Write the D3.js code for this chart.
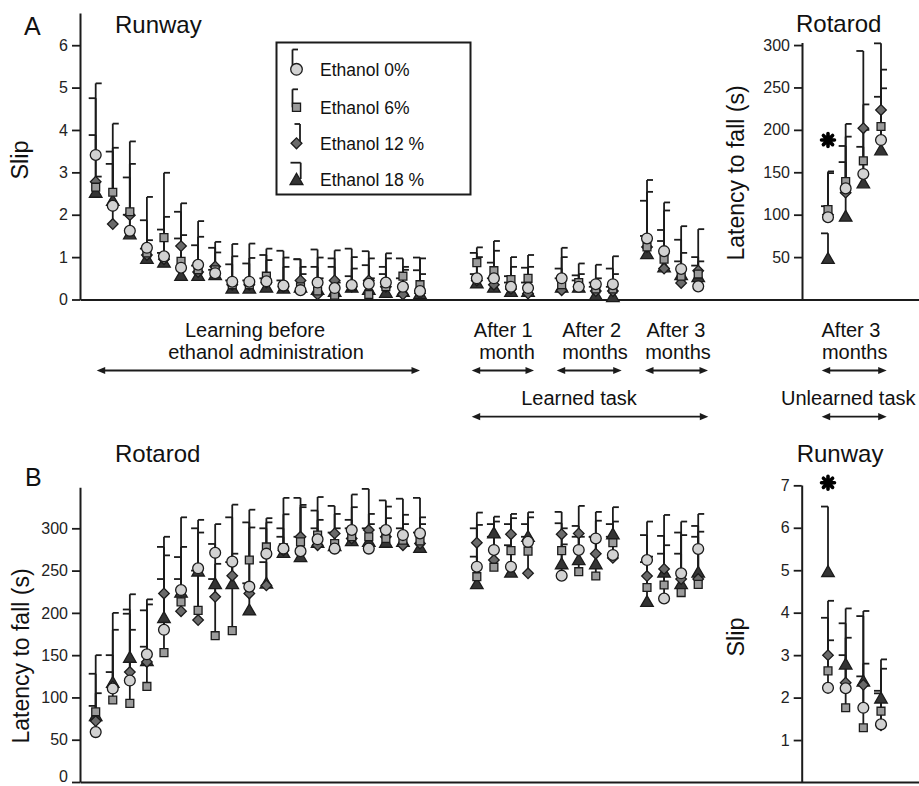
<!DOCTYPE html>
<html><head><meta charset="utf-8">
<script src="https://cdn.jsdelivr.net/npm/d3@7"></script>
<style>
body{margin:0;background:#fff;}
svg{display:block;font-family:"Liberation Sans",Arial,Helvetica,sans-serif;}
</style></head><body>
<svg id="chart" width="919" height="786"></svg>
<script>
// ---------------- DATA ----------------
const seriesNames = ["Ethanol 0%", "Ethanol 6%", "Ethanol 12 %", "Ethanol 18 %"];
const learningSessions = d3.range(1, 21);
const followUpGroups = ["After 1 month", "After 2 months", "After 3 months"];
const unlearnedTests = [1, 2, 3, 4];

// A - Runway, learning before ethanol (mean per series: 0%, 6%, 12%, 18%)
const aRunwayLearnMean = [
  [3.41, 2.21, 1.62, 1.22, 1.02, 0.75, 0.82, 0.62, 0.42, 0.42, 0.43, 0.33, 0.22, 0.40, 0.27, 0.34, 0.37, 0.40, 0.30, 0.20],
  [2.65, 2.53, 2.07, 1.10, 1.46, 0.90, 0.70, 0.70, 0.35, 0.35, 0.55, 0.30, 0.30, 0.20, 0.10, 0.30, 0.12, 0.30, 0.55, 0.35],
  [2.78, 1.78, 1.99, 1.05, 0.95, 1.26, 0.65, 0.78, 0.35, 0.35, 0.40, 0.30, 0.45, 0.12, 0.45, 0.30, 0.45, 0.30, 0.12, 0.15],
  [2.54, 2.35, 1.56, 0.98, 0.89, 0.58, 0.58, 0.60, 0.28, 0.28, 0.30, 0.28, 0.30, 0.25, 0.20, 0.30, 0.25, 0.18, 0.20, 0.15]
];
const aRunwayLearnTop = [
  [5.10, 4.15, 3.73, 2.42, 1.95, 1.52, 1.85, 1.11, 1.02, 0.98, 0.93, 0.77, 0.77, 0.99, 1.16, 1.00, 0.97, 0.97, 0.70, 0.97],
  [2.90, 3.58, 3.20, 1.40, 2.99, 2.27, 1.48, 1.36, 1.31, 1.32, 1.20, 0.99, 0.60, 0.50, 0.40, 0.73, 0.50, 1.09, 0.77, 0.60],
  [4.75, 3.20, 2.88, 1.87, 1.65, 2.07, 1.28, 1.22, 0.83, 0.85, 1.05, 1.15, 0.95, 1.18, 0.97, 1.20, 1.14, 0.60, 0.97, 0.99],
  [3.88, 3.49, 2.00, 1.20, 1.10, 1.44, 0.80, 0.70, 0.45, 0.45, 0.50, 0.45, 0.95, 0.77, 0.77, 0.55, 0.81, 0.77, 0.50, 0.69]
];
// A - Runway, learned task after 1, 2, 3 months (4 tests each)
const aRunwayFollowMean = [
  [0.50, 0.50, 0.30, 0.27, 0.50, 0.30, 0.36, 0.36, 1.44, 1.14, 0.72, 0.31],
  [0.87, 0.68, 0.47, 0.50, 0.35, 0.40, 0.25, 0.25, 1.24, 0.95, 0.55, 0.60],
  [0.45, 0.35, 0.25, 0.14, 0.22, 0.30, 0.20, 0.20, 1.24, 0.73, 0.39, 0.68],
  [0.40, 0.30, 0.20, 0.20, 0.30, 0.30, 0.12, 0.08, 1.09, 0.78, 0.60, 0.55]
];
const aRunwayFollowTop = [
  [1.00, 1.15, 0.77, 0.77, 1.22, 0.85, 0.82, 1.02, 2.82, 2.29, 1.73, 0.90],
  [1.23, 1.38, 1.00, 1.05, 1.00, 0.60, 0.50, 0.60, 2.54, 2.10, 1.10, 1.66],
  [1.10, 0.87, 0.55, 0.75, 0.73, 0.57, 0.40, 0.73, 2.33, 1.64, 1.41, 1.00],
  [0.60, 0.50, 0.40, 0.40, 0.50, 0.45, 0.30, 0.30, 1.50, 1.38, 0.90, 0.80]
];
// A - Rotarod, unlearned task after 3 months
const aRotarodMean = [[97, 131, 148, 188], [106, 139, 163.5, 204], [100, 126, 202, 223.5], [49, 98.7, 138, 177]];
const aRotarodTop  = [[151, 192, 230, 249], [149, 207, 200, 271], [110, 162, 293, 302], [78, 181, 180, 239]];
const aRotarodStar = [{test: 1, value: 188}];

// B - Rotarod, learning before ethanol
const bRotarodLearnMean = [
  [59, 110.5, 120, 151, 180, 227, 252.7, 271, 260.6, 231, 270, 276, 273, 287, 276, 298, 276, 298, 292, 294],
  [83, 97, 93, 113, 153, 213, 203, 173, 179, 262.5, 278, 277, 284, 292, 282, 290, 290, 288, 286, 285],
  [72, 113, 130, 142, 223, 202, 191.5, 219, 244, 223, 232.5, 274, 290, 280, 294, 288, 298, 290, 280, 282],
  [79, 118.4, 148, 144, 195, 225, 250, 235, 235, 204, 235.7, 272, 267, 284, 280, 286, 285, 284, 285, 278]
];
const bRotarodLearnTop = [
  [105, 180, 180, 210, 268, 278, 295, 305, 328, 301, 307, 316.6, 327.7, 337, 317, 340, 317, 325.7, 316, 313],
  [150, 200, 222, 216, 290, 313, 310, 258, 270, 322, 312, 336, 325, 310, 300, 325, 305, 312, 305, 305],
  [128, 150, 204, 203, 278, 266, 250, 240, 313, 307, 300, 300, 336, 321, 326.5, 310, 346.6, 333, 335, 336],
  [90, 130, 199, 160, 240, 240, 300, 281.5, 260, 235, 260, 290, 290, 300, 295, 300, 300, 300, 300, 295]
];
// B - Rotarod, learned task after 1, 2, 3 months
const bRotarodFollowMean = [
  [254.6, 274.4, 254.6, 284, 244, 274.4, 288, 268.5, 262.5, 217, 246.8, 275.6],
  [242.8, 254, 273.6, 273, 273.6, 248.7, 243.6, 283, 230, 233, 224, 233.7],
  [283, 262.5, 293, 246.8, 293, 294, 270, 265, 243.6, 252, 240, 240],
  [235, 295, 248.7, 291, 258.6, 263.4, 258.6, 294, 214, 248.7, 235, 248.7]
];
const bRotarodFollowTop = [
  [304, 308, 312, 313, 281, 326.5, 319.4, 308, 308, 315.8, 308, 317],
  [318.6, 313.8, 317, 319, 300, 290, 309, 325, 266.5, 280, 292, 296],
  [300, 290, 305, 290, 319.4, 302.8, 290, 290, 292, 291, 295, 302.8],
  [266.5, 305, 280, 305, 306, 290, 290, 305, 260, 270, 270, 290]
];
// B - Runway, unlearned task after 3 months
const bRunwayMean = [[2.23, 2.22, 1.76, 1.37], [2.63, 1.76, 1.29, 1.68], [3.0, 2.35, 2.3, 1.35], [4.98, 2.8, 2.4, 2.0]];
const bRunwayTop  = [[4.28, 4.1, 4.04, 2.68], [3.35, 3.41, 2.8, 2.9], [3.88, 3.75, 2.5, 2.16], [6.5, 3.0, 3.92, 2.1]];
const bRunwayStar = [{test: 1, value: 7.06}];

// tick labels
const aRunwayTicks = [0, 1, 2, 3, 4, 5, 6];
const aRotarodTicks = [50, 100, 150, 200, 250, 300];
const bRotarodTicks = [0, 50, 100, 150, 200, 250, 300];
const bRunwayTicks = [1, 2, 3, 4, 5, 6, 7];

// ---------------- STYLE / LAYOUT ----------------
const FONT = '"Liberation Sans", Arial, Helvetica, sans-serif';
const INK = "#1b1b1b";
const fills = ["#d2d2d2", "#9b9b9b", "#6a6a6a", "#343434"];
const symbolsOf = [
  {type: d3.symbolCircle, size: 92, rot: 0},
  {type: d3.symbolSquare, size: 62, rot: 0},
  {type: d3.symbolSquare, size: 56, rot: 45},
  {type: d3.symbolTriangle, size: 68, rot: 0}
];
const followGroupStart = [22.33, 27.3, 32.3]; // slot offsets of follow-up groups

const svg = d3.select("#chart");

// scales
const xLeft = d3.scaleLinear().domain([0, 19]).range([95.7, 420]);
const xRight = d3.scaleLinear().domain([1, 4]).range([828, 881]);
const yA = d3.scaleLinear().domain([0, 6.76]).range([299.5, 13]);
const yAR = d3.scaleLinear().domain([0, 303]).range([299.5, 42.5]);
const yB = d3.scaleLinear().domain([0, 348.5]).range([782, 487.3]);
const yBR = d3.scaleLinear().domain([0, 7.01]).range([782.5, 484.9]);

function styleAxis(g) {
  g.attr("font-family", FONT).attr("font-size", 16);
  g.select(".domain").attr("stroke", INK).attr("stroke-width", 2);
  g.selectAll(".tick line").attr("stroke", INK).attr("stroke-width", 1.8);
  g.selectAll(".tick text").attr("fill", "#222");
}
function yAxis(scale, ticks, x) {
  return svg.append("g").attr("transform", `translate(${x},0)`)
    .call(d3.axisLeft(scale).tickValues(ticks).tickFormat(d3.format("d"))
      .tickSize(8).tickPadding(4).tickSizeOuter(0))
    .call(styleAxis);
}
function baseline(y) {
  const bx = d3.scaleLinear().domain([0, 1]).range([80, 919]);
  svg.append("g").attr("transform", `translate(0,${y})`)
    .call(d3.axisBottom(bx).tickValues([]).tickSizeOuter(0))
    .call(styleAxis);
}

function buildPoints(meanArr, topArr, xs) {
  return xs.map((x, i) => ({x, mean: meanArr.map(s => s[i]), top: topArr.map(s => s[i])}));
}

function drawPoints(pts, y) {
  const g = svg.append("g");
  pts.forEach(p => {
    for (let s = 0; s < 4; s++) {
      const y0 = y(p.mean[s]), y1 = y(p.top[s]);
      g.append("line").attr("x1", p.x).attr("x2", p.x).attr("y1", y0).attr("y2", y1)
        .attr("stroke", INK).attr("stroke-width", 1.8);
      const cx = s < 2 ? p.x + 6 : p.x - 7;
      g.append("line").attr("x1", p.x).attr("x2", cx).attr("y1", y1).attr("y2", y1)
        .attr("stroke", INK).attr("stroke-width", 1.8);
    }
  });
  for (let s = 3; s >= 0; s--) {
    const sym = symbolsOf[s];
    const gen = d3.symbol().type(sym.type).size(sym.size);
    const dy = s === 3 ? 1.8 : 0;
    g.selectAll(null).data(pts).join("path")
      .attr("d", gen())
      .attr("transform", d => `translate(${d.x},${y(d.mean[s]) + dy}) rotate(${sym.rot})`)
      .attr("fill", fills[s]).attr("stroke", INK).attr("stroke-width", 1.3);
  }
}

function drawStar(x, y) {
  const p = d3.path();
  const r = 6.5;
  for (let k = 0; k < 4; k++) {
    const a = k * Math.PI / 4;
    p.moveTo(x - r * Math.sin(a), y - r * Math.cos(a));
    p.lineTo(x + r * Math.sin(a), y + r * Math.cos(a));
  }
  svg.append("path").attr("d", p.toString()).attr("stroke", "#000")
    .attr("stroke-width", 3.6).attr("stroke-linecap", "round").attr("fill", "none");
}

function text(str, x, y, size, anchor, rotate) {
  const t = svg.append("text").attr("font-family", FONT).attr("font-size", size)
    .attr("fill", "#111").attr("text-anchor", anchor || "start").text(str);
  if (rotate) t.attr("transform", `translate(${x},${y}) rotate(-90)`);
  else t.attr("x", x).attr("y", y);
  return t;
}

function arrow(x1, x2, y) {
  svg.append("line").attr("x1", x1 + 4).attr("x2", x2 - 4).attr("y1", y).attr("y2", y)
    .attr("stroke", INK).attr("stroke-width", 1.8);
  svg.append("path").attr("d", `M${x1},${y}l8.5,-3.6v7.2z`).attr("fill", INK);
  svg.append("path").attr("d", `M${x2},${y}l-8.5,-3.6v7.2z`).attr("fill", INK);
}

const learnX = learningSessions.map((d, i) => xLeft(i));
const followX = [];
followUpGroups.forEach((g, gi) => { for (let j = 0; j < 4; j++) followX.push(xLeft(followGroupStart[gi] + j)); });
const rightX = unlearnedTests.map(t => xRight(t));

// ---------------- PANEL A ----------------
baseline(299.5);
yAxis(yA, aRunwayTicks, 80);
yAxis(yAR, aRotarodTicks, 802);
drawPoints(buildPoints(aRunwayLearnMean, aRunwayLearnTop, learnX), yA);
drawPoints(buildPoints(aRunwayFollowMean, aRunwayFollowTop, followX), yA);
drawPoints(buildPoints(aRotarodMean, aRotarodTop, rightX), yAR);
aRotarodStar.forEach(s => drawStar(xRight(s.test), yAR(s.value)));

text("A", 24, 35, 25);
text("Runway", 115, 32.5, 24);
text("Rotarod", 796, 31.5, 24);
text("Slip", 28, 160, 23.5, "middle", true);
text("Latency to fall (s)", 744, 173, 23, "middle", true);

// legend
const leg = svg.append("g");
leg.append("rect").attr("x", 276.5).attr("y", 42.5).attr("width", 194).attr("height", 152)
  .attr("fill", "#fff").attr("stroke", INK).attr("stroke-width", 2);
const legRowY = [69.3, 107.3, 143.3, 179];
const legBarTop = [49.5, 89.3, 124, 162.7];
const legBarX = [292.5, 292.5, 300, 300.7];
const legCapX = [298, 298, 294.5, 290.5];
seriesNames.forEach((name, s) => {
  const mx = 296.5;
  leg.append("line").attr("x1", legBarX[s]).attr("x2", legBarX[s]).attr("y1", legBarTop[s]).attr("y2", legRowY[s])
    .attr("stroke", INK).attr("stroke-width", 1.8);
  leg.append("line").attr("x1", legBarX[s]).attr("x2", legCapX[s]).attr("y1", legBarTop[s]).attr("y2", legBarTop[s])
    .attr("stroke", INK).attr("stroke-width", 1.8);
  const sym = symbolsOf[s];
  leg.append("path").attr("d", d3.symbol().type(sym.type).size(sym.size * (s === 0 ? 1.15 : 1.05))())
    .attr("transform", `translate(${mx},${legRowY[s] + (s === 3 ? 1.8 : 0)}) rotate(${sym.rot})`)
    .attr("fill", fills[s]).attr("stroke", INK).attr("stroke-width", 1.3);
  text(name, 320, legRowY[s] + 6.5, 17.5);
});

// annotations between panels
text("Learning before", 255, 336.5, 20, "middle");
text("ethanol administration", 266, 359, 20, "middle");
arrow(96.7, 420, 370.5);
text("After 1", 503.3, 336.5, 20, "middle");
text("month", 507, 359, 20, "middle");
arrow(471.7, 534, 370.5);
text("After 2", 591.7, 336.5, 20, "middle");
text("months", 595, 359, 20, "middle");
arrow(556.7, 621.7, 370.5);
text("After 3", 676, 336.5, 20, "middle");
text("months", 678, 359, 20, "middle");
arrow(645, 708, 370.5);
text("After 3", 851, 336.5, 20, "middle");
text("months", 854.7, 359, 20, "middle");
arrow(821.7, 886.7, 370.5);
text("Learned task", 579, 405, 20, "middle");
arrow(471.7, 708.3, 416.7);
text("Unlearned task", 848.3, 405, 20, "middle");
arrow(821.7, 886.7, 416.7);

// ---------------- PANEL B ----------------
baseline(782);
const bLeftAxis = yAxis(yB, bRotarodTicks, 80);
// keep the bottom "0" label inside the picture
bLeftAxis.selectAll(".tick text").filter(d => d === 0).attr("dy", "-0.05em");
yAxis(yBR, bRunwayTicks, 801.7);
drawPoints(buildPoints(bRotarodLearnMean, bRotarodLearnTop, learnX), yB);
drawPoints(buildPoints(bRotarodFollowMean, bRotarodFollowTop, followX), yB);
drawPoints(buildPoints(bRunwayMean, bRunwayTop, rightX), yBR);
bRunwayStar.forEach(s => drawStar(xRight(s.test), yBR(s.value)));

text("B", 25, 486, 25);
text("Rotarod", 115, 461.5, 24);
text("Runway", 796.7, 461.5, 24);
text("Latency to fall (s)", 29, 656, 23, "middle", true);
text("Slip", 744, 637, 23.5, "middle", true);
</script>
</body></html>
